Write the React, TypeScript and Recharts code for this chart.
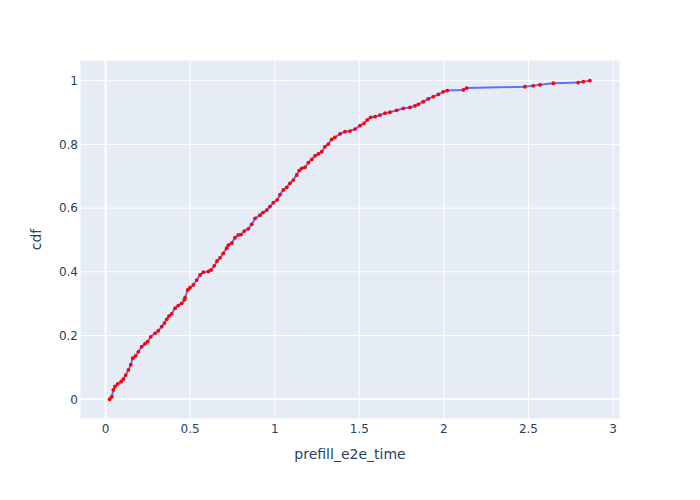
import {
  ComposedChart,
  Line,
  XAxis,
  YAxis,
  CartesianGrid,
  ReferenceLine,
  Label,
} from 'recharts'

const times = [
  0.024, 0.037, 0.046, 0.056, 0.072, 0.092, 0.105, 0.119, 0.135, 0.149,
  0.161, 0.178, 0.194, 0.214, 0.233, 0.249, 0.267, 0.293, 0.312, 0.332,
  0.348, 0.362, 0.375, 0.391, 0.411, 0.43, 0.45, 0.466, 0.47, 0.486,
  0.499, 0.519, 0.539, 0.559, 0.578, 0.608, 0.624, 0.643, 0.659, 0.677,
  0.696, 0.716, 0.726, 0.746, 0.765, 0.785, 0.801, 0.82, 0.844, 0.864,
  0.884, 0.913, 0.931, 0.953, 0.972, 0.992, 1.015, 1.031, 1.051, 1.071,
  1.09, 1.11, 1.13, 1.145, 1.16, 1.179, 1.199, 1.219, 1.238, 1.258,
  1.278, 1.297, 1.317, 1.337, 1.356, 1.386, 1.415, 1.445, 1.475, 1.504,
  1.528, 1.547, 1.567, 1.593, 1.622, 1.652, 1.681, 1.721, 1.76, 1.8,
  1.829, 1.849, 1.878, 1.908, 1.937, 1.967, 1.996, 2.02, 2.115, 2.135,
  2.479, 2.528, 2.568, 2.647, 2.794, 2.824, 2.863,
]
const cdf = [
  0.0, 0.008, 0.029, 0.04, 0.048, 0.055, 0.063, 0.076, 0.092, 0.108,
  0.129, 0.136, 0.149, 0.165, 0.174, 0.181, 0.196, 0.207, 0.215, 0.228,
  0.239, 0.251, 0.261, 0.268, 0.286, 0.294, 0.301, 0.312, 0.319, 0.343,
  0.35, 0.359, 0.374, 0.39, 0.399, 0.401, 0.406, 0.419, 0.434, 0.444,
  0.458, 0.474, 0.484, 0.49, 0.507, 0.516, 0.517, 0.528, 0.535, 0.549,
  0.568, 0.578, 0.586, 0.594, 0.605, 0.617, 0.626, 0.642, 0.657, 0.665,
  0.678, 0.688, 0.704, 0.718, 0.725, 0.728, 0.743, 0.753, 0.764, 0.77,
  0.777, 0.793, 0.801, 0.816, 0.822, 0.833, 0.84, 0.842, 0.848, 0.859,
  0.866, 0.877, 0.885, 0.887, 0.892, 0.898, 0.901, 0.907, 0.913, 0.916,
  0.921, 0.926, 0.934, 0.943, 0.95, 0.957, 0.965, 0.969, 0.971, 0.977,
  0.981, 0.984, 0.987, 0.992, 0.994, 0.997, 1.0,
]

const xTicks = [0, 0.5, 1, 1.5, 2, 2.5, 3]
const yTicks = [0, 0.2, 0.4, 0.6, 0.8, 1]

const rows = times.map((t, i) => ({ t, cdf: cdf[i] }))

const font = '"DejaVu Sans", verdana, arial, sans-serif'
const tick = { fontSize: 12, fill: '#2a3f5f', fontFamily: font }

export default function App() {
  return (
    <div style={{ position: 'absolute', left: 0, top: 0, width: 700, height: 500, background: '#fff' }}>
      <ComposedChart
        width={700}
        height={500}
        data={rows}
        margin={{ top: 60, right: 80, bottom: 21, left: 0 }}
      >
        <CartesianGrid fill="#E5ECF6" stroke="#fff" strokeWidth={1} />
        <XAxis
          dataKey="t"
          type="number"
          domain={[-0.151, 3.041]}
          allowDataOverflow
          ticks={xTicks}
          tick={tick}
          tickLine={false}
          axisLine={false}
          tickSize={0}
          tickMargin={5}
          height={60}
        >
          <Label
            value="prefill_e2e_time"
            position="bottom"
            offset={-30}
            style={{ fontSize: 14, fill: '#2a3f5f', fontFamily: font }}
          />
        </XAxis>
        <YAxis
          type="number"
          domain={[-0.062, 1.065]}
          allowDataOverflow
          ticks={yTicks}
          tick={tick}
          tickLine={false}
          axisLine={false}
          tickSize={0}
          tickMargin={2}
          width={80}
        >
          <Label
            value="cdf"
            angle={-90}
            position="insideLeft"
            offset={36}
            style={{ fontSize: 14, fill: '#2a3f5f', fontFamily: font, textAnchor: 'middle' }}
          />
        </YAxis>
        <ReferenceLine x={0} stroke="#fff" strokeWidth={2} />
        <ReferenceLine y={0} stroke="#fff" strokeWidth={2} />
        <Line
          dataKey="cdf"
          type="linear"
          stroke="#636efa"
          strokeWidth={2}
          dot={{ r: 1.9, fill: 'red', stroke: 'none' }}
          activeDot={false}
          isAnimationActive={false}
        />
      </ComposedChart>
    </div>
  )
}
